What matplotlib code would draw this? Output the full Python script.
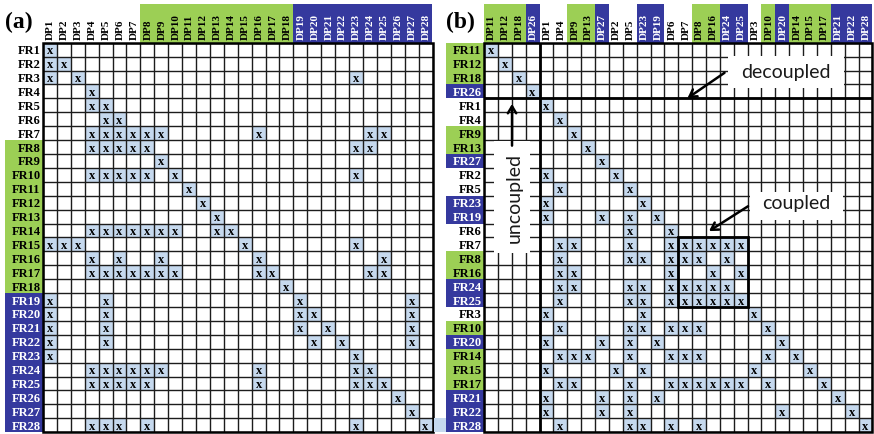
import matplotlib
matplotlib.use("Agg")
import matplotlib.pyplot as plt
from matplotlib.patches import Rectangle

# ---------------- data ----------------
N = 28
FR_NUMS = list(range(1, 29))
DP_NUMS = list(range(1, 29))

# design matrix (a): for each FR, the DPs that affect it
dsm_a = {
    1: [1], 2: [1, 2], 3: [1, 3, 23], 4: [4], 5: [4, 5], 6: [5, 6],
    7: [4, 5, 6, 7, 8, 9, 16, 24, 25],
    8: [4, 5, 6, 7, 8, 23, 24],
    9: [9],
    10: [4, 5, 6, 7, 8, 10, 23],
    11: [11], 12: [12], 13: [13],
    14: [4, 5, 6, 7, 8, 9, 10, 13, 14],
    15: [1, 2, 3, 15, 23],
    16: [4, 6, 9, 16, 25],
    17: [4, 5, 6, 7, 8, 9, 10, 16, 17, 24, 25],
    18: [18],
    19: [1, 5, 19, 27], 20: [1, 5, 19, 20, 27], 21: [1, 5, 19, 21, 27],
    22: [1, 5, 20, 22, 27], 23: [1, 23],
    24: [4, 5, 6, 7, 8, 9, 16, 23, 24],
    25: [4, 5, 6, 7, 8, 16, 23, 24, 25],
    26: [26], 27: [27], 28: [4, 5, 6, 8, 23, 28],
}

# reordered matrix (b): same order for FRs and DPs
order_b = [11, 12, 18, 26, 1, 4, 9, 13, 27, 2, 5, 23, 19, 6, 7, 8, 16, 24, 25,
           3, 10, 20, 14, 15, 17, 21, 22, 28]
green_items = list(range(8, 19))
blue_items = list(range(19, 29))

# ---------------- style ----------------
GREEN = "#9ccf55"
BLUE = "#35399e"
CELL = "#c6d9ee"
GRID = "#1c1c1c"
SERIF = "Liberation Serif"
SANS = "Lato"

fig = plt.figure(figsize=(8.74, 4.34), dpi=100)
W, H = 874.0, 434.0


def add_ax(left, top, right, bottom):
    return fig.add_axes([left / W, (H - bottom) / H, (right - left) / W, (bottom - top) / H])


def group_color(k):
    if k in green_items:
        return GREEN
    if k in blue_items:
        return BLUE
    return None


def draw_dsm(ax, rows, cols):
    ax.set_xlim(0, N)
    ax.set_ylim(N, 0)
    ax.axis("off")
    for i, fr in enumerate(rows):
        for j, dp in enumerate(cols):
            if dp in dsm_a[fr]:
                ax.add_patch(Rectangle((j, i), 1, 1, facecolor=CELL, edgecolor="none", zorder=1))
                ax.text(j + 0.5, i + 0.5, "x", ha="center", va="center_baseline",
                        fontsize=9, fontweight="bold", family=SERIF, zorder=3)
    ax.hlines(range(N + 1), 0, N, color=GRID, lw=1.0, zorder=2)
    ax.vlines(range(N + 1), 0, N, color=GRID, lw=1.0, zorder=2)
    ax.add_patch(Rectangle((0, 0), N, N, fill=False, lw=1.8, edgecolor="black",
                           zorder=5, clip_on=False))
    # row labels
    for i, fr in enumerate(rows):
        c = group_color(fr)
        if c:
            ax.add_patch(Rectangle((-2.74, i), 2.74, 1, facecolor=c, edgecolor="none",
                                   clip_on=False, zorder=0))
        ax.text(-0.18, i + 0.5, f"FR{fr}", ha="right", va="center_baseline", fontsize=9,
                fontweight="bold", family=SERIF,
                color="white" if c == BLUE else "black", clip_on=False)
    # column labels
    for j, dp in enumerate(cols):
        c = group_color(dp)
        if c:
            ax.add_patch(Rectangle((j, -2.78), 1, 2.78, facecolor=c, edgecolor="none",
                                   clip_on=False, zorder=0))
        ax.text(j + 0.55, -0.2, f"DP{dp}", ha="center", va="bottom", rotation=90,
                fontsize=8, fontweight="bold", family=SERIF,
                color="white" if c == BLUE else "black", clip_on=False)


# ---------------- panel (a) ----------------
ax_a = add_ax(43, 42.7, 432.5, 432.2)
draw_dsm(ax_a, FR_NUMS, DP_NUMS)

# ---------------- panel (b) ----------------
ax_b = add_ax(484, 42.7, 872.5, 432.2)
draw_dsm(ax_b, order_b, order_b)

# separator lines for uncoupled block
ax_b.hlines(4, 0, N, color="black", lw=2.0, zorder=5)
ax_b.vlines(4, 0, N, color="black", lw=2.0, zorder=5)
# coupled block
ax_b.add_patch(Rectangle((14, 14), 5, 5, fill=False, lw=2.0, edgecolor="black", zorder=5))
# stray highlight next to last row label
ax_b.add_patch(Rectangle((-3.6, 27), 0.86, 1, facecolor=CELL, edgecolor="none",
                         clip_on=False, zorder=0))

arrow_kw = dict(arrowstyle="->,head_length=0.5,head_width=0.3", color="black", lw=1.8)

# decoupled
ax_b.add_patch(Rectangle((17.6, 0.95), 8.35, 2.3, facecolor="white", edgecolor="none", zorder=6))
ax_b.text(21.75, 2.15, "decoupled", ha="center", va="center", fontsize=14, family=SANS,
          color="#1a1a1a", zorder=7)
ax_b.annotate("", xy=(14.5, 4.1), xytext=(17.5, 2.05), arrowprops=arrow_kw, zorder=7)

# coupled
ax_b.add_patch(Rectangle((19.2, 10.7), 6.7, 2.05, facecolor="white", edgecolor="none", zorder=6))
ax_b.text(22.5, 11.55, "coupled", ha="center", va="center", fontsize=14, family=SANS,
          color="#1a1a1a", zorder=7)
ax_b.annotate("", xy=(16.05, 13.65), xytext=(19.2, 11.65), arrowprops=arrow_kw, zorder=7)

# uncoupled
ax_b.add_patch(Rectangle((0.72, 7.05), 2.6, 8.1, facecolor="white", edgecolor="none", zorder=6))
ax_b.text(2.2, 11.15, "uncoupled", ha="center", va="center", rotation=90, fontsize=14,
          family=SANS, color="#1a1a1a", zorder=7)
ax_b.annotate("", xy=(2.02, 4.2), xytext=(2.02, 7.6), arrowprops=arrow_kw, zorder=7)

# panel letters
fig.text(5 / W, 1 - 22 / H, "(a)", ha="left", va="center", fontsize=17,
         fontweight="bold", family=SERIF)
fig.text(446 / W, 1 - 22 / H, "(b)", ha="left", va="center", fontsize=17,
         fontweight="bold", family=SERIF)

fig.savefig("out.png", dpi=100)
